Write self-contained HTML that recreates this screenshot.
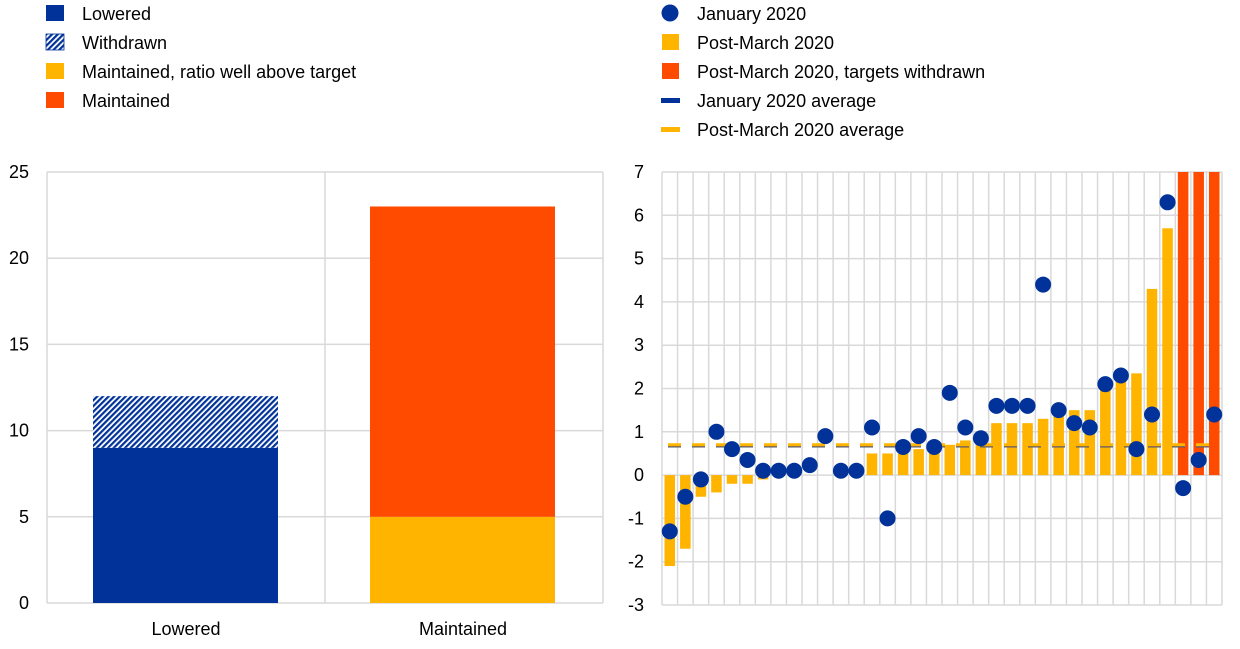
<!DOCTYPE html>
<html><head><meta charset="utf-8"><style>
body{margin:0;background:#fff;}
svg{display:block;font-family:"Liberation Sans",Arial,sans-serif;}
</style></head><body>
<svg id="s" width="1240" height="649" xmlns="http://www.w3.org/2000/svg">
<defs>
<pattern id="h" patternUnits="userSpaceOnUse" width="4" height="4" patternTransform="rotate(45)">
<rect width="4" height="4" fill="#fff"/><rect width="2.2" height="4" fill="#003299"/>
</pattern>
</defs>
<g font-size="18" fill="#000">
<rect x="46" y="5" width="18" height="16" fill="#003299"/><text x="82" y="20">Lowered</text>
<rect x="46" y="34" width="18" height="16" fill="url(#h)" stroke="#003299" stroke-width="0.8"/><text x="82" y="49">Withdrawn</text>
<rect x="46" y="63" width="18" height="16" fill="#ffb400"/><text x="82" y="78">Maintained, ratio well above target</text>
<rect x="46" y="92" width="18" height="16" fill="#ff4b00"/><text x="82" y="107">Maintained</text>
<circle cx="670" cy="13" r="8.5" fill="#003299"/><text x="697" y="20">January 2020</text>
<rect x="662" y="34" width="17" height="16" fill="#ffb400"/><text x="697" y="49">Post-March 2020</text>
<rect x="662" y="63" width="17" height="16" fill="#ff4b00"/><text x="697" y="78">Post-March 2020, targets withdrawn</text>
<rect x="661" y="98" width="19" height="5" fill="#003299"/><text x="697" y="107">January 2020 average</text>
<rect x="661" y="127" width="19" height="5" fill="#ffb400"/><text x="697" y="136">Post-March 2020 average</text>
</g>
<g id="L"></g>
<g id="R"></g>
</svg>
<script>
var NS="http://www.w3.org/2000/svg";
function el(p,t,a,txt){var e=document.createElementNS(NS,t);for(var k in a)e.setAttribute(k,a[k]);if(txt!==undefined)e.textContent=txt;p.appendChild(e);return e;}
var G="#d9d9d9";
// Left chart
var L=document.getElementById("L");
var lx0=47,lx1=603,ly0=603,ly1=172,lu=(ly0-ly1)/25;
function ly(v){return ly0-v*lu;}
for(var v=0;v<=25;v+=5){el(L,"line",{x1:lx0,x2:lx1,y1:ly(v),y2:ly(v),stroke:G,"stroke-width":1.5});
el(L,"text",{x:29,y:ly(v)+6,"font-size":18,"text-anchor":"end"},v);}
el(L,"line",{x1:lx0,x2:lx0,y1:ly1,y2:ly0,stroke:G,"stroke-width":1.5});
el(L,"line",{x1:325,x2:325,y1:ly1,y2:ly0,stroke:G,"stroke-width":1.5});
el(L,"line",{x1:lx1,x2:lx1,y1:ly1,y2:ly0,stroke:G,"stroke-width":1.5});
el(L,"rect",{x:93,y:ly(9),width:185,height:9*lu,fill:"#003299"});
el(L,"rect",{x:93,y:ly(12),width:185,height:3*lu,fill:"url(#h)"});
el(L,"rect",{x:370,y:ly(5),width:185,height:5*lu,fill:"#ffb400"});
el(L,"rect",{x:370,y:ly(23),width:185,height:18*lu,fill:"#ff4b00"});
el(L,"text",{x:186,y:635,"font-size":18,"text-anchor":"middle"},"Lowered");
el(L,"text",{x:463,y:635,"font-size":18,"text-anchor":"middle"},"Maintained");
// Right chart
var R=document.getElementById("R");
var rx0=662,rx1=1222,ry1=172,ry0=605,ru=(ry0-ry1)/10;
function ry(v){return ry1+(7-v)*ru;}
var n=36,cw=(rx1-rx0)/n;
for(var v=-3;v<=7;v++){el(R,"line",{x1:rx0,x2:rx1,y1:ry(v),y2:ry(v),stroke:G,"stroke-width":1.5});
el(R,"text",{x:644,y:ry(v)+6,"font-size":18,"text-anchor":"end"},v);}
for(var i=0;i<=n;i++){el(R,"line",{x1:rx0+i*cw,x2:rx0+i*cw,y1:ry1,y2:ry0,stroke:G,"stroke-width":1.5});}
var bars=[-2.1,-1.7,-0.5,-0.4,-0.2,-0.2,-0.1,0,0,0,0,0,0.05,0.5,0.5,0.5,0.6,0.55,0.7,0.8,0.85,1.2,1.2,1.2,1.3,1.4,1.5,1.5,2.0,2.2,2.35,4.3,5.7,7,7,7];
var pts=[-1.3,-0.5,-0.1,1.0,0.6,0.35,0.1,0.1,0.1,0.23,0.9,0.1,0.1,1.1,-1.0,0.65,0.9,0.65,1.9,1.1,0.85,1.6,1.6,1.6,4.4,1.5,1.2,1.1,2.1,2.3,0.6,1.4,6.3,-0.3,0.35,1.4];
for(var i=0;i<n;i++){var b=bars[i];if(b==0)continue;var x=rx0+i*cw+2.5;
el(R,"rect",{x:x,y:Math.min(ry(0),ry(b)),width:cw-5,height:Math.abs(ry(b)-ry(0)),fill:i>=33?"#ff4b00":"#ffb400"});}
el(R,"line",{x1:rx0+6,x2:rx1-6,y1:ry(0.7)+1.5,y2:ry(0.7)+1.5,stroke:"#5a5a6a","stroke-width":2.5,"stroke-dasharray":"13 11"});
el(R,"line",{x1:rx0+6,x2:rx1-6,y1:ry(0.7),y2:ry(0.7),stroke:"#ffb400","stroke-width":3,"stroke-dasharray":"13 11"});
for(var i=0;i<n;i++){el(R,"circle",{cx:rx0+(i+0.5)*cw,cy:ry(pts[i]),r:8,fill:"#003299"});}
</script>
</body></html>
